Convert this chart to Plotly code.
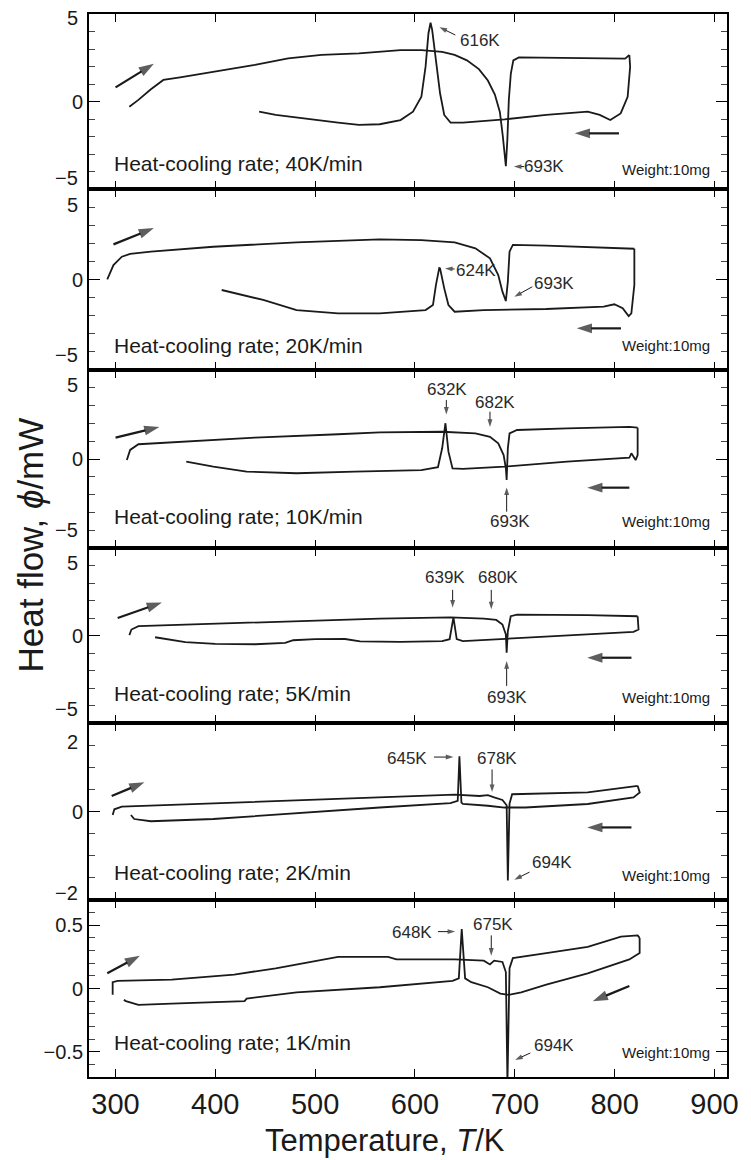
import plotly.graph_objects as go

# ---------------- data (T in K, phi in mW) ----------------
rates = ["40K/min", "20K/min", "10K/min", "5K/min", "2K/min", "1K/min"]

heat_T_40 = [313.9, 323, 335.5, 348, 364.7, 398, 439.7, 473, 506.4, 543.9, 564.7, 585.5, 606.4, 627.2, 639.7, 652, 664, 673, 680, 685, 688, 691, 692.5, 694, 696, 698.5, 704, 731.5, 773, 810.5, 814.7]
heat_P_40 = [-0.30, 0.09, 0.70, 1.23, 1.38, 1.70, 2.09, 2.47, 2.66, 2.75, 2.85, 2.94, 2.94, 2.83, 2.66, 2.35, 1.85, 1.2, 0.4, -0.6, -2.0, -3.7, -2.2, 0.1, 1.6, 2.35, 2.52, 2.50, 2.47, 2.45, 2.66]
cool_T_40 = [814.7, 815.5, 813, 806, 795.6, 785, 773, 731.5, 689.7, 648, 635.6, 629.3, 625.1, 621, 617.2, 615.6, 613.5, 610.6, 606.4, 598, 585.5, 564.7, 543.9, 523, 489.7, 460.5, 443.9]
cool_P_40 = [2.66, 1.99, 0.27, -0.68, -1.06, -0.77, -0.58, -0.77, -1.02, -1.21, -1.21, -0.77, 0.47, 2.37, 4.09, 4.5, 3.9, 1.99, 0.27, -0.58, -1.06, -1.30, -1.34, -1.21, -0.96, -0.77, -0.58]

heat_T_20 = [291.8, 298, 306.4, 314.7, 335.5, 398, 481.4, 564.7, 606.4, 639.7, 660.5, 675.1, 683.4, 687.6, 691, 693, 694.7, 698, 731.5, 773, 814.7, 819.7]
heat_P_20 = [0.01, 0.80, 1.26, 1.41, 1.54, 1.81, 2.05, 2.22, 2.18, 2.05, 1.72, 1.17, 0.25, -0.67, -1.19, -0.12, 1.54, 1.91, 1.87, 1.80, 1.72, 1.70]
cool_T_20 = [819.7, 819.7, 816.7, 814, 808, 799.6, 789, 731.5, 668.9, 639.7, 633.5, 629.3, 625.1, 624.3, 621, 618, 610.6, 564.7, 523, 481.4, 448, 406.4]
cool_P_20 = [1.70, -0.30, -1.87, -2.02, -1.59, -1.37, -1.50, -1.63, -1.69, -1.78, -1.41, -0.49, 0.62, 0.64, -0.30, -1.41, -1.69, -1.87, -1.87, -1.69, -1.13, -0.58]

heat_T_10 = [311.4, 314.7, 323, 356.4, 439.7, 523, 564.7, 627.2, 660.5, 675.1, 683.4, 688.8, 691, 691.8, 693, 694.7, 702.2, 752.3, 814.7, 823]
heat_P_10 = [-0.06, 0.51, 0.83, 0.94, 1.20, 1.39, 1.50, 1.53, 1.44, 1.25, 0.88, 0.22, -0.52, -1.18, 0.60, 1.44, 1.63, 1.72, 1.81, 1.76]
cool_T_10 = [823, 823, 821, 816.7, 814.7, 752.3, 689.7, 648, 637.6, 633.5, 630.5, 627.2, 623, 606.4, 539.7, 481.4, 431.4, 398, 370.9]
cool_P_10 = [1.76, 0.22, -0.06, 0.32, 0.07, -0.15, -0.43, -0.56, -0.53, 0.41, 2.01, 0.60, -0.46, -0.62, -0.71, -0.80, -0.71, -0.43, -0.15]

heat_T_5 = [313.9, 316, 323, 398, 481.4, 564.7, 635.6, 668.9, 681.4, 687.6, 691, 691.8, 693, 695.9, 702.2, 773, 823]
heat_P_5 = [0.02, 0.34, 0.53, 0.66, 0.81, 0.97, 1.04, 0.97, 0.89, 0.63, 0.06, -0.98, 0.24, 1.10, 1.19, 1.17, 1.10]
cool_T_5 = [823, 823.9, 818.9, 752.3, 689.7, 648, 641.8, 638.5, 634.7, 627.2, 585.5, 545, 530, 500, 478, 470, 440, 400, 370, 339.7]
cool_P_5 = [1.10, 0.34, 0.21, 0.02, -0.19, -0.32, -0.21, 1.04, -0.21, -0.32, -0.36, -0.33, -0.2, -0.21, -0.27, -0.42, -0.50, -0.48, -0.38, -0.10]

heat_T_2 = [297.2, 298.9, 306.4, 356.4, 439.7, 523, 606.4, 639.7, 664.7, 673, 679.3, 687.6, 691.8, 693, 694.7, 697.3, 773, 810.5, 823]
heat_P_2 = [-0.08, 0.05, 0.11, 0.15, 0.22, 0.29, 0.35, 0.38, 0.35, 0.37, 0.32, 0.26, 0.14, -1.56, 0.18, 0.39, 0.43, 0.54, 0.58]
cool_T_2 = [823, 825.1, 818.9, 773, 710.5, 689.7, 673, 648, 646.5, 644.5, 642.8, 635.5, 564.7, 481.4, 398, 335.5, 318.8, 315.5]
cool_P_2 = [0.58, 0.43, 0.32, 0.17, 0.09, 0.09, 0.13, 0.17, 0.20, 1.25, 0.24, 0.19, 0.09, -0.04, -0.17, -0.22, -0.17, -0.08]

heat_T_1 = [297.2, 297.2, 302.2, 356.4, 418.9, 460.5, 523, 573, 581.4, 639.7, 668.9, 675.1, 679.3, 687.6, 691, 692.6, 694.7, 698, 731.5, 773, 806.3, 823, 825]
heat_P_1 = [-0.05, 0.05, 0.06, 0.07, 0.11, 0.16, 0.25, 0.25, 0.23, 0.23, 0.22, 0.19, 0.22, 0.21, 0.13, -0.75, 0.16, 0.24, 0.28, 0.33, 0.41, 0.42, 0.40]
cool_T_1 = [825, 825, 814.7, 773, 731.5, 706.4, 693.9, 685.5, 673, 656.4, 650.2, 646.8, 643.9, 637.7, 564.7, 481.4, 431.4, 429.3, 356.4, 323, 310.5, 308.4]
cool_P_1 = [0.40, 0.28, 0.23, 0.12, 0.03, -0.03, -0.05, -0.04, 0.01, 0.05, 0.08, 0.47, 0.08, 0.06, 0.01, -0.03, -0.08, -0.10, -0.12, -0.13, -0.10, -0.09]

heat_T = [heat_T_40, heat_T_20, heat_T_10, heat_T_5, heat_T_2, heat_T_1]
heat_P = [heat_P_40, heat_P_20, heat_P_10, heat_P_5, heat_P_2, heat_P_1]
cool_T = [cool_T_40, cool_T_20, cool_T_10, cool_T_5, cool_T_2, cool_T_1]
cool_P = [cool_P_40, cool_P_20, cool_P_10, cool_P_5, cool_P_2, cool_P_1]

y_ranges = [[-5, 5], [-5, 5], [-5, 5], [-5, 5], [-2, 2], [-0.7, 0.7]]
y_minor_step = [1, 1, 1, 1, 0.5, 0.1]
x_ticks = [300, 400, 500, 600, 700, 800, 900]

edge_labels = [
    [("5", 5, -4), ("\u22125", -5, 11)],
    [("5", 5, -16), ("\u22125", -5, 15)],
    [("5", 5, -15), ("\u22125", -5, 18)],
    [("5", 5, -15), ("\u22125", -5, 14)],
    [("2", 2, -19), ("\u22122", -2, 7)],
    [],
]

# heating / cooling direction arrows: (tail T, tail phi, tip T, tip phi)
heat_arrows = [(300.1, 0.81, 338.5, 2.15), (298, 1.94, 338.5, 2.84), (300.1, 1.20, 344, 1.80),
               (302.2, 1.0, 346.5, 1.88), (296.2, 0.35, 329, 0.66), (291.8, 0.12, 324.5, 0.26)]
cool_arrows = [(804.3, -1.82, 760, -1.82), (806.3, -2.70, 762, -2.70), (814.7, -1.61, 772.5, -1.61),
               (816.8, -1.27, 772.5, -1.27), (816.8, -0.36, 772.5, -0.36), (814.7, 0.02, 778, -0.10)]

peak_texts = [
    [("616K", 664.7, 3.5), ("693K", 729.3, -3.72)],
    [("624K", 661.4, 0.47), ("693K", 739.7, -0.21)],
    [("632K", 632.2, 3.88), ("682K", 680.6, 3.18), ("693K", 695, -3.52)],
    [("639K", 630.5, 3.31), ("680K", 683.5, 3.31), ("693K", 691.8, -3.54)],
    [("645K", 592, 1.2), ("678K", 682.2, 1.2), ("694K", 737.6, -1.15)],
    [("648K", 597.5, 0.44), ("675K", 678, 0.51), ("694K", 739.7, -0.45)],
]
# small pointer arrows: (tail T, tail phi, tip T, tip phi)
peak_arrows = [
    [(640.4, 3.8, 624.5, 4.24), (709.4, -3.72, 699, -3.72)],
    [(639.7, 0.58, 630, 0.61), (717.5, -0.40, 699.5, -0.95)],
    [(631.4, 3.31, 631.4, 2.5), (675.1, 2.66, 675.1, 1.8), (691.8, -2.96, 691.8, -1.6)],
    [(637.7, 2.61, 637.7, 1.6), (676.4, 2.61, 676.4, 1.5), (691.8, -2.88, 691.8, -1.46)],
    [(619, 1.23, 638.5, 1.23), (677.2, 0.95, 677.2, 0.44), (714.7, -1.37, 699.5, -1.54)],
    [(623, 0.45, 640.3, 0.45), (676.4, 0.42, 676.4, 0.26), (715.5, -0.51, 700.3, -0.565)],
]
rate_label_y = [-3.54, -3.62, -3.24, -3.3, -1.37, -0.43]
weight_label_y = [-3.91, -3.66, -3.52, -3.54, -1.45, -0.51]

W, H = 751, 1160
M_T, M_B, M_L, M_R = 14, 83, 89, 16
edges_px = [14, 189, 370, 548, 723, 900, 1077]
area = H - M_T - M_B
PLOT_W = W - M_L - M_R
def frac(px):
    return (H - M_B - px) / area

FONT = "Liberation Sans, Arial, sans-serif"
INK = "#1a1a1a"

fig = go.Figure()
layout = dict(width=W, height=H, margin=dict(t=M_T, b=M_B, l=M_L, r=M_R),
              paper_bgcolor="white", plot_bgcolor="white", showlegend=False)
annotations = []

def arrow_trace(seg, xa, ya, width, head):
    tx, ty, hx, hy = seg
    return go.Scatter(x=[tx, hx], y=[ty, hy], mode="lines+markers", xaxis=xa, yaxis=ya,
                      line=dict(color=INK, width=width),
                      marker=dict(symbol="arrow", angleref="previous", size=[0, head], color=INK,
                                  line=dict(width=0)),
                      hoverinfo="skip", cliponaxis=False)

for i in range(6):
    n = i + 1
    xa = "x" if n == 1 else f"x{n}"
    ya = "y" if n == 1 else f"y{n}"
    fig.add_trace(go.Scatter(x=heat_T[i], y=heat_P[i], mode="lines", xaxis=xa, yaxis=ya,
                             line=dict(color=INK, width=1.8)))
    fig.add_trace(go.Scatter(x=cool_T[i], y=cool_P[i], mode="lines", xaxis=xa, yaxis=ya,
                             line=dict(color=INK, width=1.8)))
    fig.add_trace(arrow_trace(heat_arrows[i], xa, ya, 2.2, 16))
    fig.add_trace(arrow_trace(cool_arrows[i], xa, ya, 2.2, 16))
    for seg in peak_arrows[i]:
        fig.add_trace(arrow_trace(seg, xa, ya, 1, 8))

    xd = dict(domain=[0, 1], anchor=ya, range=[273.5, 912.5], tickmode="array",
              tickvals=x_ticks, showticklabels=(n == 6),
              ticks="inside", ticklen=8, tickwidth=1.2, tickcolor="black",
              showline=True, linewidth=2, linecolor="black", mirror="ticks",
              showgrid=False, zeroline=False, tickfont=dict(size=29, family=FONT, color=INK))
    if n != 1:
        xd["matches"] = "x"
    if n == 6:
        tv = [-0.5, 0, 0.5]
        tt = ["\u22120.5", "0", "0.5"]
    else:
        tv = [0]
        tt = ["0"]
    lo_r, hi_r = y_ranges[i]
    step = y_minor_step[i]
    k0 = round(lo_r / step)
    k1 = round(hi_r / step)
    minor_vals = [round(k * step, 4) for k in range(k0 + 1, k1) if round(k * step, 4) not in tv]
    yd = dict(domain=[frac(edges_px[i + 1]), frac(edges_px[i])], anchor=xa, range=y_ranges[i],
              tickmode="array", tickvals=tv, ticktext=tt,
              ticks="inside", ticklen=11, tickwidth=1.2, tickcolor="black",
              minor=dict(ticks="inside", ticklen=6, tickwidth=1, tickcolor="#444",
                         tickmode="array", tickvals=minor_vals),
              showline=True, linewidth=2, linecolor="black", mirror="ticks",
              showgrid=False, zeroline=False, tickfont=dict(size=20, family=FONT, color=INK))
    layout["xaxis" if n == 1 else f"xaxis{n}"] = xd
    layout["yaxis" if n == 1 else f"yaxis{n}"] = yd

    for lab, val, ys in edge_labels[i]:
        annotations.append(dict(text=lab, xref="paper", x=0, xanchor="right", xshift=-9,
                                yref=ya, y=val, yanchor="middle", yshift=ys, showarrow=False,
                                font=dict(size=20, family=FONT, color=INK)))

    for (lab, tx, ty) in peak_texts[i]:
        annotations.append(dict(text=lab, x=tx, y=ty, xref=xa, yref=ya, showarrow=False,
                                font=dict(size=17, family=FONT, color="#2a2a2a")))

    annotations.append(dict(text=f"Heat-cooling rate; {rates[i]}", xref="paper", x=(112 - M_L) / PLOT_W,
                            xanchor="left", yref=ya, y=rate_label_y[i], showarrow=False,
                            font=dict(size=21, family=FONT, color=INK)))
    annotations.append(dict(text="Weight:10mg", xref="paper", x=(720 - M_L) / PLOT_W,
                            xanchor="right", yref=ya, y=weight_label_y[i], showarrow=False,
                            font=dict(size=15, family=FONT, color=INK)))

annotations.append(dict(text="Heat flow, <i>\u03d5</i>/mW", xref="paper", yref="paper", x=0, y=0.5,
                        xanchor="center", yanchor="middle", xshift=-59, textangle=-90, showarrow=False,
                        font=dict(size=35, family=FONT, color=INK)))
annotations.append(dict(text="Temperature, <i>T</i>/K", xref="paper", yref="paper",
                        x=(389 - M_L) / PLOT_W, y=0, xanchor="center", yanchor="middle",
                        yshift=-63, showarrow=False,
                        font=dict(size=31, family=FONT, color=INK)))

layout["annotations"] = annotations
fig.update_layout(**layout)
fig.write_html("out.html")
